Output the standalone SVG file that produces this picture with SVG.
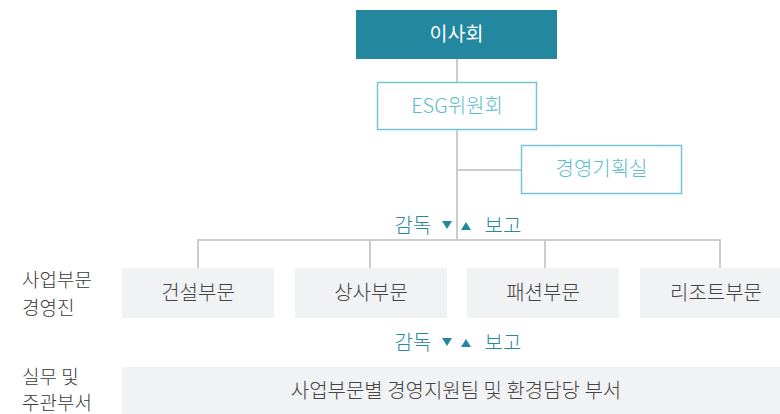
<svg xmlns="http://www.w3.org/2000/svg" width="780" height="414" viewBox="0 0 780 414">
<style>
text{font-family:"Noto Sans CJK KR","Noto Sans",sans-serif;font-weight:300}
.c{text-anchor:middle}
.dk{fill:#3a3a3a;font-size:19px}
.unit rect{fill:#f1f2f4}
.unit text{fill:#444;font-size:20px;text-anchor:middle}
.ln{stroke:#cccccc;stroke-width:2;fill:none}
.rp{fill:#2a89a0;font-size:20px}
.tri{fill:#22879f}
.out rect{fill:#fff;stroke:#73c6d4;stroke-width:1.5}
.out text{fill:#5cbccc;font-size:20px;text-anchor:middle}
</style>
<rect width="780" height="414" fill="#fff"/>
<g id="connectors">
<path class="ln" d="M457 59V82M457 130V240M457 170H521M198 268V240H720V268M370 240V268M545 240V268"/>
</g>
<g id="board">
<rect x="356" y="10" width="201" height="49" fill="#22879f"/>
<text x="456.5" y="41" class="c" fill="#fff" font-size="19.5" style="font-weight:400">이사회</text>
</g>
<g id="esg" class="out">
<rect x="377.5" y="82.5" width="159" height="47"/>
<text x="457" y="113">ESG위원회</text>
</g>
<g id="planning" class="out">
<rect x="521.5" y="145.5" width="160" height="48"/>
<text x="601.5" y="176">경영기획실</text>
</g>
<g id="report1">
<text x="413" y="233" class="rp c">감독</text>
<path class="tri" d="M442 221H452L447 229Z"/>
<path class="tri" d="M461 230H471L466 222Z"/>
<text x="503" y="233" class="rp c">보고</text>
</g>
<g id="label-exec">
<text x="22" y="287" class="dk">사업부문</text>
<text x="22" y="315" class="dk">경영진</text>
</g>
<g id="construction" class="unit">
<rect x="122" y="268" width="152" height="50"/>
<text x="198" y="300">건설부문</text>
</g>
<g id="trading" class="unit">
<rect x="295" y="268" width="152" height="50"/>
<text x="371" y="300">상사부문</text>
</g>
<g id="fashion" class="unit">
<rect x="467" y="268" width="152" height="50"/>
<text x="543" y="300">패션부문</text>
</g>
<g id="resort" class="unit">
<rect x="640" y="268" width="140" height="50"/>
<text x="716" y="300">리조트부문</text>
</g>
<g id="report2">
<text x="413" y="350" class="rp c">감독</text>
<path class="tri" d="M442 338H452L447 346Z"/>
<path class="tri" d="M461 347H471L466 339Z"/>
<text x="503" y="350" class="rp c">보고</text>
</g>
<g id="label-work">
<text x="22" y="384" class="dk">실무 및</text>
<text x="22" y="410" class="dk">주관부서</text>
</g>
<g id="departments" class="unit">
<rect x="122" y="367" width="658" height="47"/>
<text x="456" y="398">사업부문별 경영지원팀 및 환경담당 부서</text>
</g>
</svg>
